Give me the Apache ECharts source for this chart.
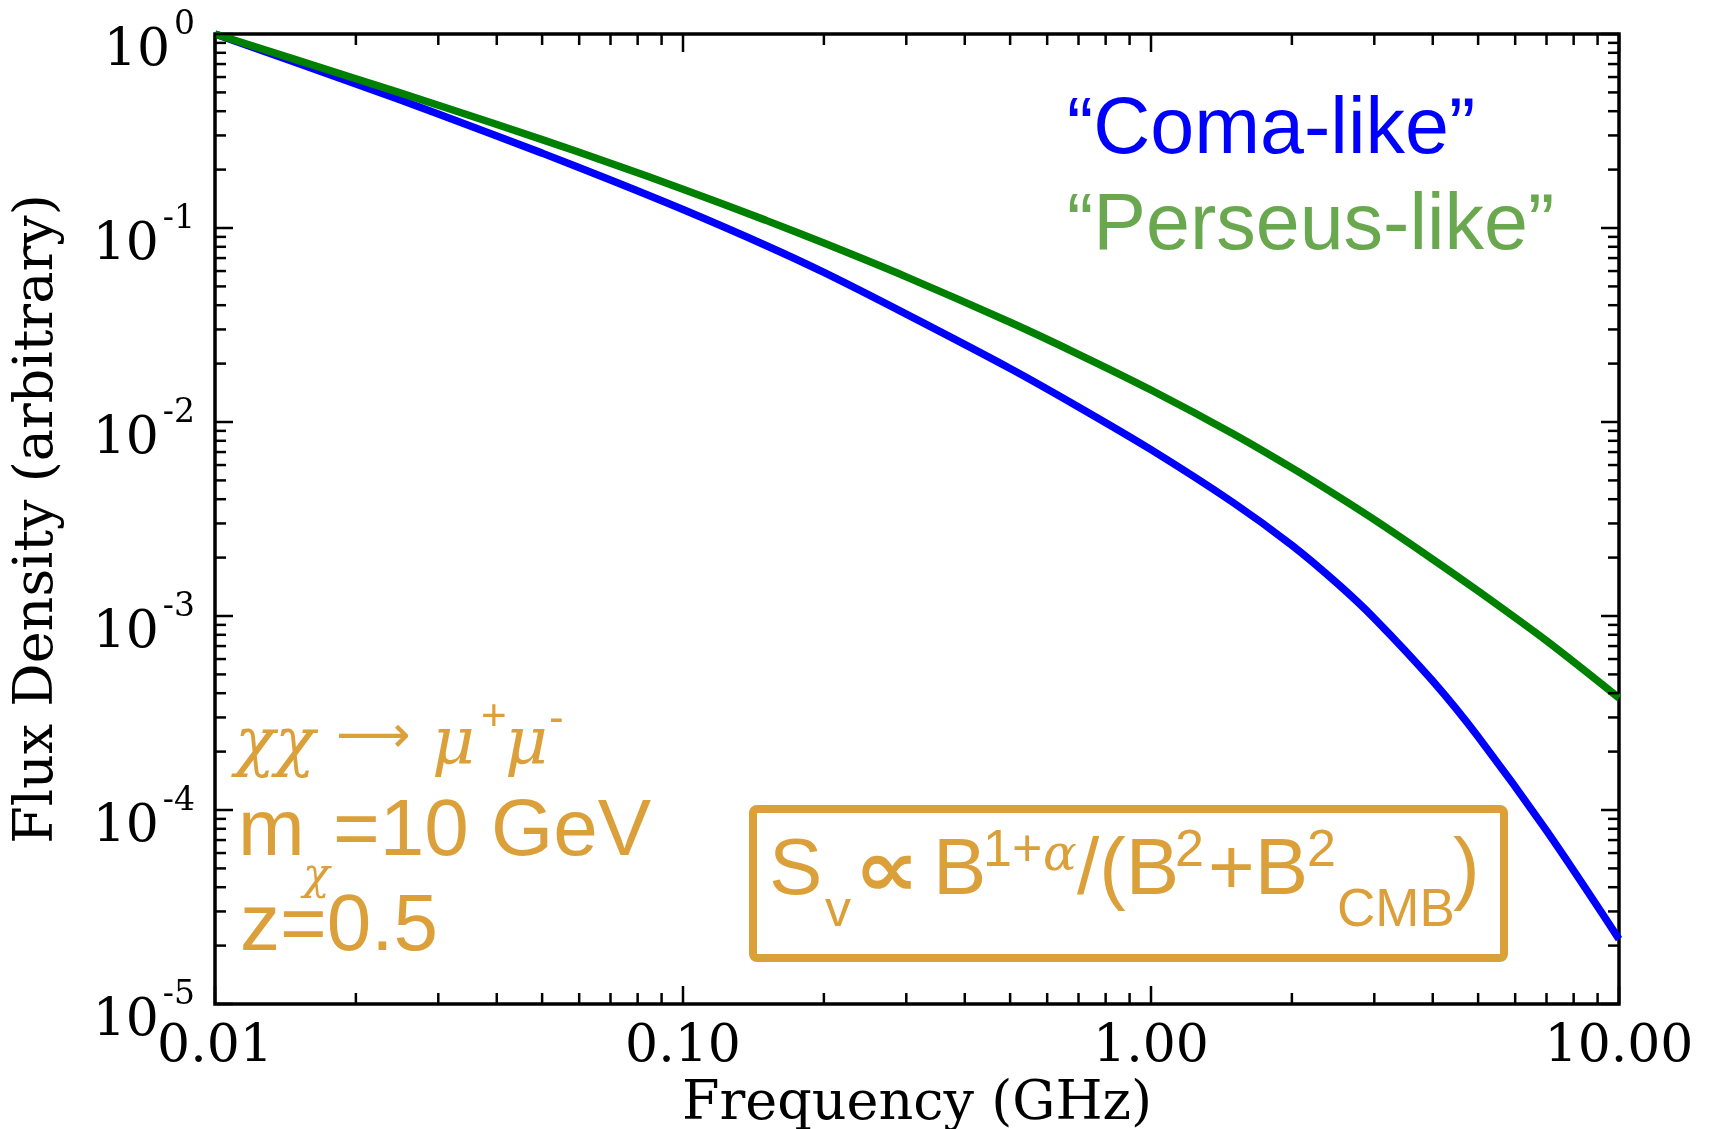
<!DOCTYPE html>
<html>
<head>
<meta charset="utf-8">
<script src="https://cdn.jsdelivr.net/npm/echarts@6/dist/echarts.min.js"></script>
<style>
html,body{margin:0;padding:0;background:#fff;}
#chart{width:1713px;height:1129px;}
</style>
</head>
<body>
<div id="chart"></div>
<script>
// ---- data ----
const freqGHz      = [0.01, 0.02, 0.03, 0.05, 0.07, 0.1, 0.15, 0.2, 0.3, 0.5, 0.7, 1, 1.5, 2, 2.5, 3, 4, 5, 7, 10];
const comaFlux     = [1.0, 0.553, 0.3872, 0.2432, 0.1768, 0.1245, 0.0815, 0.0590, 0.03597, 0.01887, 0.01195, 0.0072, 0.003835, 0.002315, 0.001472, 0.000973, 0.000462, 0.0002385, 0.0000782, 0.0000216];
const perseusFlux  = [1.0, 0.588, 0.4295, 0.2856, 0.2158, 0.1585, 0.1098, 0.0836, 0.0560, 0.03266, 0.02234, 0.01462, 0.00868, 0.0058, 0.00416, 0.003136, 0.001960, 0.001345, 0.000745, 0.000378];
const seriesNames  = ['\u201cComa-like\u201d', '\u201cPerseus-like\u201d'];
const xRange       = [0.01, 10];
const yRange       = [1e-5, 1];
const xMajorTicks  = [0.01, 0.1, 1, 10];
const xMinorTicks  = [0.02,0.03,0.04,0.05,0.06,0.07,0.08,0.09, 0.2,0.3,0.4,0.5,0.6,0.7,0.8,0.9, 2,3,4,5,6,7,8,9];
const yMajorTicks  = [1e-5, 1e-4, 1e-3, 1e-2, 1e-1, 1];
const yMinorTicks  = [];
for (let e = -5; e < 0; e++) for (let m = 2; m <= 9; m++) yMinorTicks.push(m * Math.pow(10, e));
const xAxisTitle   = 'Frequency (GHz)';
const yAxisTitle   = 'Flux Density (arbitrary)';

const BLUE = '#0000ff', GREEN = '#008000', GOLD = '#DBA03A', LGREEN = '#6AA84F';
const SERIF = 'DejaVu Serif', SANS = 'Liberation Sans, Arial, DejaVu Sans';

function pairs(xs, ys) { return xs.map((x, i) => [x, ys[i]]); }

function tickSeries(values, dir, len) {
  return {
    type: 'custom', coordinateSystem: 'cartesian2d', silent: true, clip: false, z: 6,
    data: values.map(v => dir === 'x' ? [v, yRange[0]] : [xRange[0], v]),
    renderItem: function (params, api) {
      const style = { stroke: '#000', lineWidth: 2.5 };
      if (dir === 'x') {
        const v = api.value(0);
        const pb = api.coord([v, yRange[0]]), pt = api.coord([v, yRange[1]]);
        return { type: 'group', children: [
          { type: 'line', shape: { x1: pb[0], y1: pb[1], x2: pb[0], y2: pb[1] - len }, style: style },
          { type: 'line', shape: { x1: pt[0], y1: pt[1], x2: pt[0], y2: pt[1] + len }, style: style }
        ]};
      } else {
        const v = api.value(1);
        const pl = api.coord([xRange[0], v]), pr = api.coord([xRange[1], v]);
        return { type: 'group', children: [
          { type: 'line', shape: { x1: pl[0], y1: pl[1], x2: pl[0] + len, y2: pl[1] }, style: style },
          { type: 'line', shape: { x1: pr[0], y1: pr[1], x2: pr[0] - len, y2: pr[1] }, style: style }
        ]};
      }
    }
  };
}

// y tick labels "10^n" drawn at the axis' own tick positions
const measureCtx = document.createElement('canvas').getContext('2d');
function textWidth(t, size) { measureCtx.font = size + 'px "DejaVu Serif"'; return measureCtx.measureText(t).width; }
const DV_MID = 0.26;
function yLabelSeries() {
  return {
    type: 'custom', coordinateSystem: 'cartesian2d', silent: true, clip: false, z: 6,
    data: yMajorTicks.map(v => [xRange[0], v]),
    renderItem: function (params, api) {
      const v = api.value(1);
      const p = api.coord([xRange[0], v]);
      const exp = String(Math.round(Math.log10(v)));
      const right = p[0] - 20;
      const sw = textWidth(exp, 33);
      return { type: 'group', children: [
        { type: 'text', x: right, y: p[1] - DV_MID * 33,
          style: { text: exp, fontFamily: SERIF, fontSize: 33, fill: '#000', align: 'right', verticalAlign: 'middle' } },
        { type: 'text', x: right - sw - 4, y: p[1] + 31 - DV_MID * 52,
          style: { text: '10', fontFamily: SERIF, fontSize: 52, fill: '#000', align: 'right', verticalAlign: 'middle' } }
      ]};
    }
  };
}

const MID = 0.3465;
function txt(text, x, base, size, color, family, italic, extra) {
  const el = { type: 'text', x: x, y: base - MID * size, silent: true, z: 20,
    style: { text: text, fill: color, fontSize: size, fontFamily: family,
      fontStyle: italic ? 'italic' : 'normal', align: 'left', verticalAlign: 'middle' } };
  if (extra) Object.assign(el, extra.el || {}), Object.assign(el.style, extra.style || {});
  return el;
}

const graphics = [
  // process annotation
  txt('\u03c7\u03c7', 235, 769, 66, GOLD, SERIF, true),
  txt('\u27f6', 336, 757, 52, GOLD, 'DejaVu Sans', false),
  txt('\u03bc', 432, 769, 66, GOLD, SERIF, true),
  txt('+', 481, 733, 44, GOLD, SANS, false),
  txt('\u03bc', 505, 769, 66, GOLD, SERIF, true),
  txt('-', 549, 735, 44, GOLD, SANS, false),
  txt('m', 238, 861, 80, GOLD, SANS, false),
  txt('\u03c7', 303, 893, 44, GOLD, SERIF, true),
  txt('=10 GeV', 333, 861, 80, GOLD, SANS, false),
  txt('z=0.5', 240, 956, 80, GOLD, SANS, false),
  // formula box
  { type: 'rect', silent: true, z: 20, shape: { x: 753, y: 809, width: 751, height: 149, r: 4 },
    style: { fill: 'none', stroke: GOLD, lineWidth: 8 } },
  txt('S', 769, 900, 80, GOLD, SANS, false),
  txt('v', 825, 930, 52, GOLD, SANS, false),
  txt('\u221d', 854, 903, 80, GOLD, 'DejaVu Sans', false, { el: { scaleX: 1.15 }, style: { fontWeight: 'bold' } }),
  txt('B', 933, 900, 80, GOLD, SANS, false),
  txt('1+', 983, 870, 52, GOLD, SANS, false),
  txt('\u03b1', 1043, 874, 50, GOLD, SERIF, true),
  txt('/(B', 1077, 900, 80, GOLD, SANS, false),
  txt('2', 1175, 870, 52, GOLD, SANS, false),
  txt('+B', 1208, 900, 80, GOLD, SANS, false),
  txt('2', 1307, 870, 52, GOLD, SANS, false),
  txt('CMB', 1337, 930, 53, GOLD, SANS, false),
  txt(')', 1453, 900, 80, GOLD, SANS, false)
];

const chart = echarts.init(document.getElementById('chart'), null, { renderer: 'canvas' });
chart.setOption({
  animation: false,
  backgroundColor: '#fff',
  grid: { left: 215, top: 34, right: 94, bottom: 125, show: true, borderColor: '#000', borderWidth: 3.5,
    backgroundColor: 'transparent', containLabel: false, outerBoundsMode: 'none' },
  legend: {
    orient: 'vertical', left: 1062, top: 83, padding: 0, itemGap: 0,
    itemWidth: 0, itemHeight: 0, icon: 'none', selectedMode: false,
    data: [
      { name: seriesNames[0], textStyle: { color: BLUE } },
      { name: seriesNames[1], textStyle: { color: LGREEN } }
    ],
    textStyle: { fontFamily: SANS, fontSize: 79, lineHeight: 96 }
  },
  xAxis: {
    type: 'log', min: xRange[0], max: xRange[1], logBase: 10,
    name: xAxisTitle, nameLocation: 'middle', nameGap: 66,
    nameTextStyle: { fontFamily: SERIF, fontSize: 54, color: '#000' },
    axisLine: { show: false }, axisTick: { show: false }, splitLine: { show: false },
    axisLabel: { margin: 17, fontFamily: SERIF, fontSize: 52, color: '#000',
      formatter: v => Number(v).toFixed(2) }
  },
  yAxis: {
    type: 'log', min: yRange[0], max: yRange[1], logBase: 10,
    name: yAxisTitle, nameLocation: 'middle', nameGap: 150, nameRotate: 90,
    nameTextStyle: { fontFamily: SERIF, fontSize: 54, color: '#000' },
    axisLine: { show: false }, axisTick: { show: false }, splitLine: { show: false },
    axisLabel: { show: false }
  },
  series: [
    { name: seriesNames[0], type: 'line', data: pairs(freqGHz, comaFlux), showSymbol: false, smooth: 0.3,
      lineStyle: { color: BLUE, width: 7.5 }, itemStyle: { color: BLUE }, z: 3, clip: true },
    { name: seriesNames[1], type: 'line', data: pairs(freqGHz, perseusFlux), showSymbol: false, smooth: 0.3,
      lineStyle: { color: GREEN, width: 7.5 }, itemStyle: { color: GREEN }, z: 4, clip: true },
    tickSeries(xMajorTicks, 'x', 18),
    tickSeries(xMinorTicks, 'x', 11),
    tickSeries(yMajorTicks, 'y', 18),
    tickSeries(yMinorTicks, 'y', 11),
    yLabelSeries()
  ],
  graphic: graphics
});
</script>
</body>
</html>
